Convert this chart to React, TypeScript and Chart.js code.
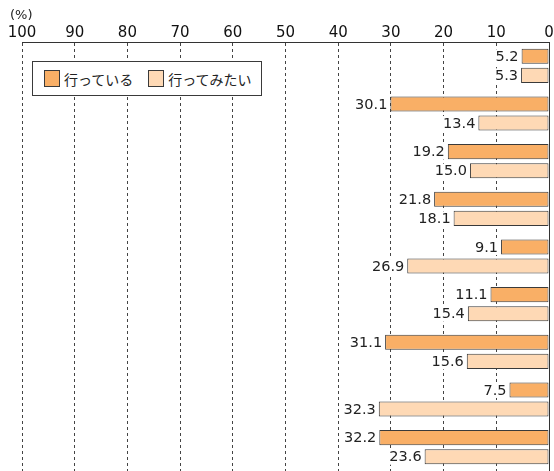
import React, { useEffect, useRef } from "react";
import { Chart, registerables } from "chart.js";

Chart.register(...registerables);

const categories = ["1", "2", "3", "4", "5", "6", "7", "8", "9"];
const seriesNames = ["行っている", "行ってみたい"];
const doingValues = [5.2, 30.1, 19.2, 21.8, 9.1, 11.1, 31.1, 7.5, 32.2];
const wantValues = [5.3, 13.4, 15.0, 18.1, 26.9, 15.4, 15.6, 32.3, 23.6];
const tickValues = [100, 90, 80, 70, 60, 50, 40, 30, 20, 10, 0];

const ORANGE = "#F9AF66";
const LIGHT = "#FED9B5";
const EDGE = "#3a3a3a";

const valueLabels = {
  id: "valueLabels",
  afterDatasetsDraw(chart: any) {
    const ctx = chart.ctx;
    ctx.save();
    ctx.font = "14.5px 'DejaVu Sans'";
    ctx.textAlign = "right";
    ctx.textBaseline = "middle";
    chart.data.datasets.forEach((ds: any, di: number) => {
      const meta = chart.getDatasetMeta(di);
      meta.data.forEach((el: any, i: number) => {
        const v = ds.data[i] as number;
        const t = v.toFixed(1);
        const w = ctx.measureText(t).width;
        const xr = el.x - 3;
        ctx.fillStyle = "#fff";
        ctx.fillRect(xr - w - 1, el.y - 7, w + 2, 15);
        ctx.fillStyle = "#222";
        ctx.fillText(t, xr, el.y + 1);
      });
    });
    ctx.restore();
  },
};

const percentLabel = {
  id: "percentLabel",
  afterDraw(chart: any) {
    const ctx = chart.ctx;
    ctx.save();
    ctx.font = "13px 'DejaVu Sans'";
    ctx.fillStyle = "#222";
    ctx.textAlign = "left";
    ctx.textBaseline = "middle";
    ctx.fillText("(%)", 10, 16);
    ctx.restore();
  },
};

export default function App() {
  const ref = useRef<HTMLCanvasElement | null>(null);

  useEffect(() => {
    if (!ref.current) return;
    const chart = new Chart(ref.current, {
      type: "bar",
      data: {
        labels: categories,
        datasets: [
          {
            label: seriesNames[0],
            data: doingValues,
            backgroundColor: ORANGE,
            borderColor: EDGE,
            borderWidth: 1,
            borderSkipped: false,
            categoryPercentage: 0.8,
            barPercentage: 0.79,
          },
          {
            label: seriesNames[1],
            data: wantValues,
            backgroundColor: LIGHT,
            borderColor: EDGE,
            borderWidth: 1,
            borderSkipped: false,
            categoryPercentage: 0.8,
            barPercentage: 0.79,
          },
        ],
      },
      options: {
        indexAxis: "y",
        animation: false,
        responsive: true,
        maintainAspectRatio: false,
        layout: { padding: { left: 22, right: 5, top: 24, bottom: 0 } },
        plugins: { legend: { display: false }, tooltip: { enabled: false } },
        scales: {
          x: {
            type: "linear",
            position: "top",
            reverse: true,
            min: 0,
            max: 100,
            afterBuildTicks: (s: any) => {
              s.ticks = tickValues.map((v) => ({ value: v }));
            },
            ticks: {
              font: { family: "'DejaVu Sans'", size: 15 },
              color: "#111",
              padding: 0,
              maxRotation: 0,
              autoSkip: false,
            },
            grid: { color: "#444", lineWidth: 1, drawTicks: false },
            border: { display: true, color: "#333", width: 1, dash: [3, 3] },
          },
          y: {
            position: "right",
            ticks: { display: false },
            grid: { display: false, drawTicks: false },
            border: { display: true, color: "#333", width: 1 },
            afterFit: (s: any) => {
              s.width = 0;
            },
          },
        },
      },
      plugins: [valueLabels, percentLabel],
    });
    return () => chart.destroy();
  }, []);

  const swatch = (c: string): React.CSSProperties => ({
    display: "inline-block",
    width: 14,
    height: 15,
    background: c,
    border: `1px solid ${EDGE}`,
    marginRight: 4,
    verticalAlign: "middle",
  });

  return (
    <div style={{ position: "fixed", left: 0, top: 0, width: 554, height: 471, background: "#fff" }}>
      <canvas ref={ref} />
      <div
        style={{
          position: "absolute",
          left: 32,
          top: 61,
          width: 228,
          height: 33,
          border: `1px solid ${EDGE}`,
          background: "#fff",
          fontFamily: "'Noto Sans CJK JP', sans-serif",
          fontSize: 14,
          color: "#222",
          display: "flex",
          alignItems: "center",
          boxSizing: "content-box",
        }}
      >
        <span style={{ marginLeft: 11, display: "flex", alignItems: "center" }}>
          <span style={swatch(ORANGE)} />
          {seriesNames[0]}
        </span>
        <span style={{ marginLeft: 15, display: "flex", alignItems: "center" }}>
          <span style={swatch(LIGHT)} />
          {seriesNames[1]}
        </span>
      </div>
    </div>
  );
}
